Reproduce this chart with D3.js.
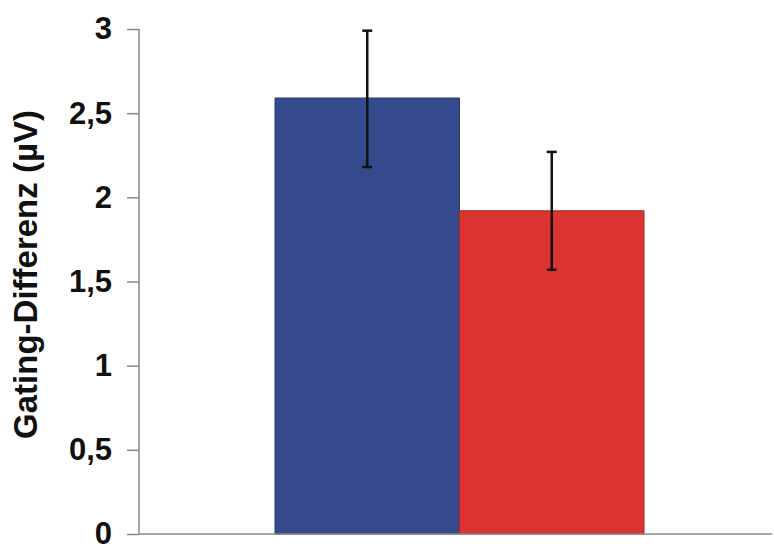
<!DOCTYPE html>
<html>
<head>
<meta charset="utf-8">
<script src="https://cdn.jsdelivr.net/npm/d3@7"></script>
<style>
  html, body { margin: 0; padding: 0; background: #fff; }
  svg { display: block; }
</style>
</head>
<body>
<script>
const groups = ["Gruppe 1", "Gruppe 2"];
const values = [2.59, 1.92];
const errLow = [2.18, 1.57];
const errHigh = [2.99, 2.27];
const colors = ["#344a8c", "#db332f"];
const yTicks = [0, 0.5, 1, 1.5, 2, 2.5, 3];
const yTickLabels = ["0", "0,5", "1", "1,5", "2", "2,5", "3"];
const yLabel = "Gating-Differenz (µV)";

const W = 774, H = 546;
const svg = d3.select("body").append("svg").attr("width", W).attr("height", H);

const axisX = 139, baseY = 534, topY = 29;
const y = d3.scaleLinear().domain([0, 3]).range([baseY, topY]);
const x = d3.scaleBand().domain(groups).range([275, 644]).paddingInner(0);

// bars
svg.selectAll("rect.bar").data(groups).join("rect")
  .attr("class", "bar")
  .attr("x", d => x(d))
  .attr("width", x.bandwidth())
  .attr("y", (d, i) => y(values[i]))
  .attr("height", (d, i) => y(0) - y(values[i]))
  .attr("fill", (d, i) => colors[i])
  .attr("stroke", (d, i) => d3.color(colors[i]).darker(0.8))
  .attr("stroke-width", 1);

// error bars
const eb = svg.append("g").attr("stroke", "#111").attr("stroke-width", 2.5);
groups.forEach((g, i) => {
  const cx = x(g) + x.bandwidth() / 2;
  eb.append("line").attr("x1", cx).attr("x2", cx).attr("y1", y(errLow[i])).attr("y2", y(errHigh[i]));
  eb.append("line").attr("x1", cx - 5).attr("x2", cx + 5).attr("y1", y(errLow[i])).attr("y2", y(errLow[i]));
  eb.append("line").attr("x1", cx - 5).attr("x2", cx + 5).attr("y1", y(errHigh[i])).attr("y2", y(errHigh[i]));
});

// y axis
const yAxis = d3.axisLeft(y).tickValues(yTicks)
  .tickFormat((d, i) => yTickLabels[i]).tickSize(12).tickPadding(15);
const ga = svg.append("g").attr("transform", `translate(${axisX},0)`).call(yAxis);
ga.select(".domain").attr("stroke", "#888").attr("stroke-width", 1.5).attr("d", `M0,${topY}V${baseY}`);
ga.selectAll(".tick line").attr("stroke", "#888").attr("stroke-width", 1.5);
ga.selectAll(".tick text")
  .attr("fill", "#111")
  .style("font-family", "'Liberation Sans', Arial, sans-serif")
  .style("font-weight", "bold")
  .style("font-size", "31px");

// baseline
svg.append("line").attr("x1", axisX).attr("x2", 772).attr("y1", baseY).attr("y2", baseY)
  .attr("stroke", "#888").attr("stroke-width", 1.5);

// y label
svg.append("text")
  .attr("transform", `translate(37,${(110 + 439) / 2}) rotate(-90)`)
  .attr("text-anchor", "middle")
  .attr("fill", "#111")
  .style("font-family", "'Liberation Sans', Arial, sans-serif")
  .style("font-weight", "bold")
  .style("font-size", "33px")
  .text(yLabel);
</script>
</body>
</html>
